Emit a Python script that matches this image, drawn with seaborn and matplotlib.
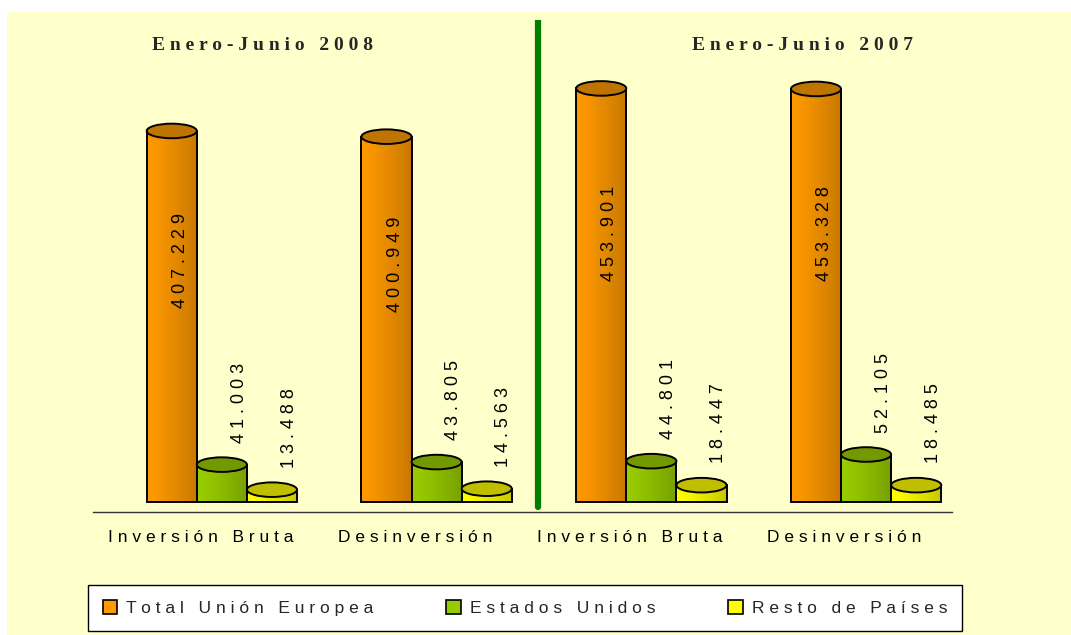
import numpy as np
import pandas as pd
import matplotlib
matplotlib.use("Agg")
import matplotlib.pyplot as plt
import seaborn as sns
from matplotlib.patches import Ellipse, Rectangle, Patch
from matplotlib.colors import to_rgb

# datos (miles de euros)
keys = ['2008_bruta', '2008_desinv', '2007_bruta', '2007_desinv']
tick_labels = ['Inversión Bruta', 'Desinversión', 'Inversión Bruta', 'Desinversión']
period_titles = ['Enero-Junio 2008', 'Enero-Junio 2007']
series = ['Total Unión Europea', 'Estados Unidos', 'Resto de Países']
total_ue = [407229, 400949, 453901, 453328]
eeuu = [41003, 43805, 44801, 52105]
resto = [13488, 14563, 18447, 18485]
colors = ['#FF9900', '#99CC00', '#FFFF00']


def spaced(s):
    return ' '.join(s)


def fmt(v):
    return f"{v:,}".replace(',', '.')


df = pd.DataFrame({
    'key': keys * 3,
    'serie': [series[0]] * 4 + [series[1]] * 4 + [series[2]] * 4,
    'value': total_ue + eeuu + resto,
})

sns.set_style('white')
plt.rcParams['font.family'] = ['Liberation Sans', 'DejaVu Sans']

W, H = 1071, 635
fig = plt.figure(figsize=(W / 100, H / 100), dpi=100)
fig.patch.set_facecolor('white')
fig.add_artist(Rectangle((7 / W, 0), 1, 1 - 12 / H, transform=fig.transFigure,
                         facecolor='#FFFFCC', edgecolor='none', zorder=-10))

ax = fig.add_axes([93 / W, 123 / H, 859 / W, 492 / H])
ax.set_facecolor('none')

sns.barplot(data=df, x='key', y='value', hue='serie', order=keys, hue_order=series,
            palette=dict(zip(series, colors)), saturation=1, width=0.7,
            edgecolor='black', linewidth=1.4, legend=False, ax=ax, zorder=3)

ymax = max(total_ue)
cap_h = 16000
shift = 0.1  # desplazamiento de perspectiva 3D
for p in list(ax.patches):
    p.set_x(p.get_x() + shift)
    x0, w, h = p.get_x(), p.get_width(), p.get_height()
    c = np.array(to_rgb(p.get_facecolor()))
    t = np.linspace(0, 1, 64)[:, None]
    grad = np.clip(c * (1.0 - 0.22 * t ** 1.3), 0, 1)[None, :, :]
    ax.imshow(grad, extent=[x0, x0 + w, 0, h], aspect='auto', zorder=2,
              interpolation='bilinear')
    p.set_facecolor('none')
    ax.add_patch(Ellipse((x0 + w / 2, h), w, cap_h, facecolor=c * 0.75,
                         edgecolor='black', lw=1.4, zorder=4))
    # etiqueta de valor
    if h > 0.3 * ymax:
        ax.text(x0 + w / 2 + 0.04, h * 0.65, spaced(fmt(int(h))), rotation=90,
                ha='center', va='center', fontsize=13, color='black', zorder=5)
    else:
        ax.text(x0 + w / 2 + 0.08, h + 24000, spaced(fmt(int(h))), rotation=90,
                ha='center', va='bottom', fontsize=13, color='black', zorder=5)

ax.set_xlim(-0.5, 3.5)
ax.set_ylim(-11000, 529000)
ax.set_xticks(range(4))
ax.set_xticklabels([spaced(t) for t in tick_labels], fontsize=12.5, color='black')
ax.set_xticks([-0.5, 0.5, 1.5, 2.5, 3.5], minor=True)
ax.tick_params(axis='x', which='major', length=0, pad=13)
ax.tick_params(axis='x', which='minor', length=6, width=1, color='#333333', direction='out')
ax.set_yticks([])
ax.set_xlabel('')
ax.set_ylabel('')
for s in ['top', 'left', 'right']:
    ax.spines[s].set_visible(False)
ax.spines['bottom'].set_color('#333333')
ax.spines['bottom'].set_linewidth(1)

ax.axvline(1.57, ymin=0.01, ymax=1, color='#008000', lw=4.5, zorder=1)

fig.text(262 / W, 1 - 45 / H, spaced(period_titles[0]), ha='center', va='center',
         fontsize=14, fontweight='bold', family='Liberation Serif')
fig.text(802 / W, 1 - 45 / H, spaced(period_titles[1]), ha='center', va='center',
         fontsize=14, fontweight='bold', family='Liberation Serif')

handles = [Patch(facecolor=c, edgecolor='black', lw=1.2) for c in colors]
leg = fig.legend(handles, [spaced(s) for s in series], loc='center', ncol=3,
                 bbox_to_anchor=(525 / W, 1 - 608 / H), fontsize=12.5, frameon=True,
                 fancybox=False, edgecolor='black', facecolor='white', framealpha=1,
                 handlelength=0.85, handleheight=0.85, handletextpad=0.5,
                 columnspacing=4.2, borderpad=0.85, borderaxespad=0)
leg.get_frame().set_linewidth(1)

fig.savefig('out.png', dpi=100)
